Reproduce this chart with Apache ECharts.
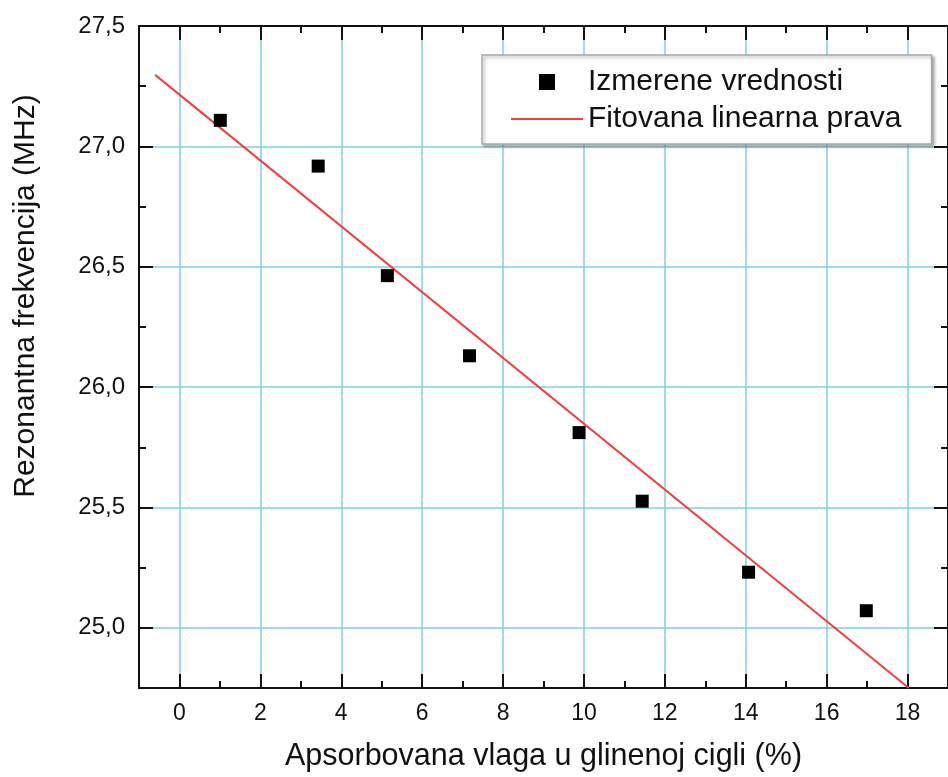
<!DOCTYPE html>
<html>
<head>
<meta charset="utf-8">
<title>Rezonantna frekvencija</title>
<script src="https://cdn.jsdelivr.net/npm/echarts@6/dist/echarts.min.js"></script>
<style>
    html, body { margin: 0; padding: 0; background: #fff; }
    #chart { width: 948px; height: 777px; }
</style>
</head>
<body>
<div id="chart"></div>
<script>
    'use strict';

    // measured points
    var vlaga = [1.01, 3.43, 5.14, 7.17, 9.88, 11.44, 14.07, 16.98];
    var frekvencija = [27.108, 26.918, 26.463, 26.130, 25.811, 25.526, 25.231, 25.071];

    // fitted line end points
    var fitX = [-0.6, 18.03];
    var fitY = [27.297, 24.75];

    var xTicks = [0, 2, 4, 6, 8, 10, 12, 14, 16, 18];
    var yTicks = [25.0, 25.5, 26.0, 26.5, 27.0, 27.5];

    var font = 'Liberation Sans, Arial, sans-serif';
    var ink = '#111';
    var gridColor = '#7fcfe0';
    var square = 'path://M0,0L10,0L10,10L0,10Z';

    var zip = function (xs, ys) {
        return xs.map(function (x, i) { return [x, ys[i]]; });
    };

    var axisBase = function (extra) {
        var axis = {
            type: 'value',
            axisLine: { show: true, onZero: false, lineStyle: { color: ink, width: 2 } },
            axisTick: { show: true, inside: true, length: 7, lineStyle: { color: ink, width: 2 } },
            axisLabel: { show: false },
            splitLine: { show: false }
        };
        return echarts.util.merge(axis, extra, true);
    };

    var xRange = { min: -1, max: 19 };
    var yRange = { min: 24.75, max: 27.5 };

    var xAxes = [
        // short ticks on every unit, grid on even values
        axisBase({
            position: 'bottom', min: xRange.min, max: xRange.max, interval: 1,
            splitLine: { show: true, lineStyle: { color: ['rgba(0,0,0,0)', gridColor], width: 1.5 } }
        }),
        // long ticks and labels
        axisBase({
            position: 'bottom', min: xRange.min, max: xRange.max,
            axisLine: { show: false },
            axisTick: { length: 14, customValues: xTicks },
            axisLabel: {
                show: true, customValues: xTicks, margin: 14,
                color: ink, fontFamily: font, fontSize: 23
            },
            name: 'Apsorbovana vlaga u glinenoj cigli (%)',
            nameLocation: 'middle',
            nameGap: 53,
            nameTextStyle: { color: ink, fontFamily: font, fontSize: 30.5 }
        }),
        axisBase({ position: 'top', min: xRange.min, max: xRange.max, interval: 1 }),
        axisBase({
            position: 'top', min: xRange.min, max: xRange.max,
            axisLine: { show: false },
            axisTick: { length: 14, customValues: xTicks }
        })
    ];

    var yAxes = [
        axisBase({
            position: 'left', min: yRange.min, max: yRange.max, interval: 0.25,
            splitLine: { show: true, lineStyle: { color: ['rgba(0,0,0,0)', gridColor], width: 1.5 } }
        }),
        axisBase({
            position: 'left', min: yRange.min, max: yRange.max,
            axisLine: { show: false },
            axisTick: { length: 14, customValues: yTicks },
            axisLabel: {
                show: true, customValues: yTicks, margin: 14,
                color: ink, fontFamily: font, fontSize: 24,
                formatter: function (v) {
                    return v.toFixed(1).replace('.', ',');
                }
            }
        }),
        axisBase({ position: 'right', min: yRange.min, max: yRange.max, interval: 0.25 }),
        axisBase({
            position: 'right', min: yRange.min, max: yRange.max,
            axisLine: { show: false },
            axisTick: { length: 14, customValues: yTicks }
        })
    ];

    var chart = echarts.init(document.getElementById('chart'), null, { renderer: 'canvas' });

    chart.setOption({
        animation: false,
        backgroundColor: '#fff',
        textStyle: { fontFamily: font },
        grid: { left: 139, top: 26, right: -6, bottom: 84, containLabel: false },
        xAxis: xAxes,
        yAxis: yAxes,
        legend: {
            orient: 'vertical',
            left: 482,
            top: 55,
            padding: [12, 30, 10, 28],
            itemWidth: 72,
            itemHeight: 16,
            itemGap: 7,
            backgroundColor: '#fff',
            borderColor: '#a8a8a8',
            borderWidth: 1.5,
            borderRadius: 0,
            shadowColor: 'rgba(0, 0, 0, 0.3)',
            shadowBlur: 3,
            shadowOffsetX: 2,
            shadowOffsetY: 2,
            textStyle: { color: ink, fontFamily: font, fontSize: 30, lineHeight: 30 },
            data: [{
                name: 'Izmerene vrednosti',
                icon: square
            }, {
                name: 'Fitovana linearna prava',
                itemStyle: { opacity: 0 }
            }]
        },
        graphic: [{
            type: 'text',
            x: 26,
            y: 296,
            rotation: Math.PI / 2,
            style: {
                text: 'Rezonantna frekvencija (MHz)',
                fill: ink,
                font: '30px ' + font,
                align: 'center',
                verticalAlign: 'middle'
            }
        }],
        series: [{
            name: 'Fitovana linearna prava',
            type: 'line',
            xAxisIndex: 0,
            yAxisIndex: 0,
            data: zip(fitX, fitY),
            symbol: 'none',
            showSymbol: false,
            clip: true,
            lineStyle: { color: '#f04040', width: 2 },
            itemStyle: { color: '#f04040' },
            z: 3
        }, {
            name: 'Izmerene vrednosti',
            type: 'scatter',
            xAxisIndex: 0,
            yAxisIndex: 0,
            data: zip(vlaga, frekvencija),
            symbol: square,
            symbolKeepAspect: true,
            symbolSize: 13,
            itemStyle: { color: '#000', opacity: 1 },
            z: 4
        }]
    });
</script>
</body>
</html>
